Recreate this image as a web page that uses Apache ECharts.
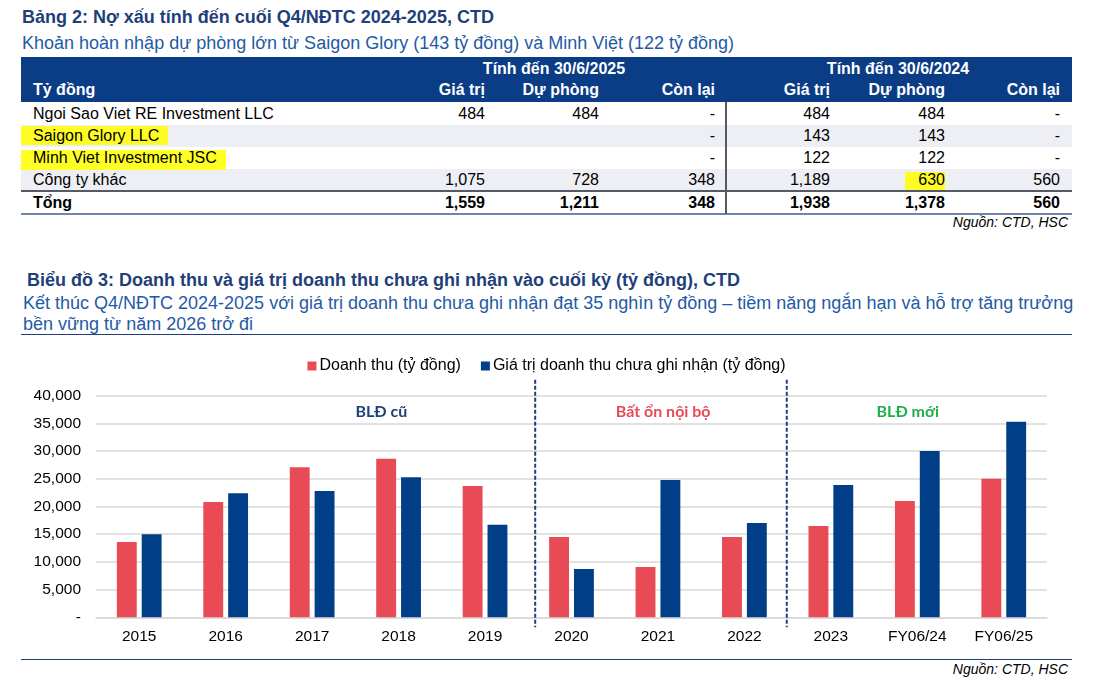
<!DOCTYPE html>
<html>
<head>
<meta charset="utf-8">
<script src="https://cdn.jsdelivr.net/npm/echarts@6/dist/echarts.min.js"></script>
<style>
  html, body { margin:0; padding:0; background:#fff; }
  body { width:1093px; height:693px; position:relative; overflow:hidden; font-family:"Liberation Sans", Arial, sans-serif; }
  .t { position:absolute; white-space:nowrap; line-height:22px; height:22px; }
  .box { position:absolute; }
  #chart { position:absolute; left:0; top:340px; width:1093px; height:320px; }
</style>
</head>
<body>
<div id="page"></div>
<div id="chart"></div>
<script>
// ---------- Table data ----------
const tableTitle = 'Bảng 2: Nợ xấu tính đến cuối Q4/NĐTC 2024-2025, CTD';
const tableSubtitle = 'Khoản hoàn nhập dự phòng lớn từ Saigon Glory (143 tỷ đồng) và Minh Việt (122 tỷ đồng)';
const tableGroups = ['Tính đến 30/6/2025', 'Tính đến 30/6/2024'];
const tableUnit = 'Tỷ đồng';
const tableColumns = ['Giá trị', 'Dự phòng', 'Còn lại', 'Giá trị', 'Dự phòng', 'Còn lại'];
const tableRowLabels = ['Ngoi Sao Viet RE Investment LLC', 'Saigon Glory LLC', 'Minh Viet Investment JSC', 'Công ty khác'];
const tableRows = [
  ['484', '484', '-', '484', '484', '-'],
  ['', '', '-', '143', '143', '-'],
  ['', '', '-', '122', '122', '-'],
  ['1,075', '728', '348', '1,189', '630', '560']
];
const totalLabel = 'Tổng';
const totalRow = ['1,559', '1,211', '348', '1,938', '1,378', '560'];
const sourceText = 'Nguồn: CTD, HSC';

// ---------- Chart data ----------
const chartTitle = 'Biểu đồ 3: Doanh thu và giá trị doanh thu chưa ghi nhận vào cuối kỳ (tỷ đồng), CTD';
const chartSubtitle1 = 'Kết thúc Q4/NĐTC 2024-2025 với giá trị doanh thu chưa ghi nhận đạt 35 nghìn tỷ đồng – tiềm năng ngắn hạn và hỗ trợ tăng trưởng';
const chartSubtitle2 = 'bền vững từ năm 2026 trở đi';
const categories = ['2015', '2016', '2017', '2018', '2019', '2020', '2021', '2022', '2023', 'FY06/24', 'FY06/25'];
const seriesNames = ['Doanh thu (tỷ đồng)', 'Giá trị doanh thu chưa ghi nhận (tỷ đồng)'];
const revenue = [13600, 20800, 27100, 28600, 23700, 14500, 9100, 14500, 16500, 21000, 25000];
const backlog = [15000, 22400, 22800, 25300, 16700, 8700, 24800, 17000, 23900, 30000, 35300];
const phaseLabels = ['BLĐ cũ', 'Bất ổn nội bộ', 'BLĐ mới'];

// ---------- Styles ----------
const C_NAVY = '#1F3F7A';
const C_SUB = '#1F5BA5';
const C_HEAD = '#0B3C86';
const C_RED = '#E84B55';
const C_BLUE = '#003F87';
const C_STRIPE = '#EDEFF5';

const page = document.getElementById('page');
function box(x, y, w, h, bg) {
  const d = document.createElement('div');
  d.className = 'box';
  Object.assign(d.style, { left: x + 'px', top: y + 'px', width: w + 'px', height: h + 'px', background: bg });
  page.appendChild(d); return d;
}
function txt(x, y, s, o) {
  o = o || {};
  const d = document.createElement('div');
  d.className = 't';
  d.textContent = s;
  d.style.top = (y - 11) + 'px';
  d.style.fontSize = (o.size || 16) + 'px';
  d.style.color = o.color || '#000';
  if (o.bold) d.style.fontWeight = 'bold';
  if (o.italic) d.style.fontStyle = 'italic';
  if (o.align === 'right') { d.style.right = (1093 - x) + 'px'; d.style.textAlign = 'right'; }
  else if (o.align === 'center') { d.style.left = x + 'px'; d.style.transform = 'translateX(-50%)'; }
  else d.style.left = x + 'px';
  page.appendChild(d); return d;
}

// Table
txt(22, 17, tableTitle, { size: 18, bold: true, color: C_NAVY });
txt(22, 43, tableSubtitle, { size: 18, color: C_SUB });
box(21, 57, 1051, 45, C_HEAD);
const colRight = [485, 599, 715, 830, 945, 1060];
txt(554, 69, tableGroups[0], { bold: true, color: '#fff', align: 'center' });
txt(898, 69, tableGroups[1], { bold: true, color: '#fff', align: 'center' });
txt(33, 90, tableUnit, { bold: true, color: '#fff' });
tableColumns.forEach((c, i) => txt(colRight[i], 90, c, { bold: true, color: '#fff', align: 'right' }));
const rowY = [114, 136, 158, 180];
box(21, 125, 1051, 22, C_STRIPE);
box(21, 169, 1051, 22, C_STRIPE);
// highlights
box(21, 126, 147, 19, 'rgba(255,255,0,0.85)');
box(21, 150, 205, 20, 'rgba(255,255,0,0.85)');
box(905, 172, 40, 19, 'rgba(255,255,0,0.85)');
tableRowLabels.forEach((r, i) => {
  txt(33, rowY[i], r);
  tableRows[i].forEach((v, j) => { if (v) txt(colRight[j], rowY[i], v, { align: 'right' }); });
});
box(21, 190, 1051, 2, '#555a66');
txt(33, 203, totalLabel, { bold: true });
totalRow.forEach((v, j) => txt(colRight[j], 203, v, { bold: true, align: 'right' }));
box(21, 213, 1051, 2, '#6f86a8');
box(725, 102, 2, 112, '#555a66');
txt(1068, 222, sourceText, { size: 14, italic: true, align: 'right' });

// Chart header
txt(27, 280, chartTitle, { size: 18, bold: true, color: C_NAVY });
txt(23, 303, chartSubtitle1, { size: 18, color: C_SUB });
txt(23, 324, chartSubtitle2, { size: 18, color: C_SUB });
box(21, 334, 1051, 1, C_NAVY);
box(21, 659, 1051, 1, C_NAVY);
txt(1068, 669, sourceText, { size: 14, italic: true, align: 'right' });

// ---------- Chart ----------
const chart = echarts.init(document.getElementById('chart'));
const FONT = '"Liberation Sans", Arial, sans-serif';
chart.setOption({
  animation: false,
  textStyle: { fontFamily: FONT },
  legend: {
    top: 13, left: 'center',
    data: seriesNames,
    icon: 'rect', itemWidth: 9, itemHeight: 9, itemGap: 20,
    textStyle: { fontSize: 16, color: '#000', fontFamily: FONT, padding: [0, 0, 0, -2] }
  },
  grid: { left: 96, right: 46, top: 55.7, height: 221.6, containLabel: false },
  xAxis: [{
    type: 'category', data: categories,
    axisLine: { show: true, lineStyle: { color: '#D9D9D9', width: 1.5 } },
    axisTick: { show: false },
    axisLabel: { fontSize: 15.5, color: '#000', margin: 11, fontFamily: FONT, interval: 0 }
  }, {
    type: 'value', min: 0, max: categories.length, show: false
  }],
  yAxis: {
    type: 'value', min: 0, max: 40000, interval: 5000,
    axisLine: { show: false }, axisTick: { show: false },
    splitLine: { lineStyle: { color: '#D9D9D9', width: 1.5 } },
    axisLabel: {
      fontSize: 15.5, color: '#000', margin: 15, fontFamily: FONT,
      formatter: v => v === 0 ? '-' : v.toLocaleString('en-US')
    }
  },
  series: [
    { name: seriesNames[0], type: 'bar', data: revenue, barWidth: '23%', barGap: '25%', itemStyle: { color: C_RED } },
    { name: seriesNames[1], type: 'bar', data: backlog, barWidth: '23%', barGap: '25%', itemStyle: { color: C_BLUE } }
  ]
});

// dividers and phase labels positioned via the chart's own scales
const dividerPos = [5.08, 7.99];
const labelPos = [3.30, 6.56, 9.39];
const labelColors = [C_NAVY, C_RED, '#1DAF4B'];
const yTop = chart.convertToPixel({ yAxisIndex: 0 }, 40000);
const yBot = chart.convertToPixel({ yAxisIndex: 0 }, 0);
const yLab = chart.convertToPixel({ yAxisIndex: 0 }, 37000);
const gfx = [];
dividerPos.forEach(p => {
  const x = chart.convertToPixel({ xAxisIndex: 1 }, p);
  gfx.push({ type: 'line', shape: { x1: x, y1: yTop - 16, x2: x, y2: yBot + 10 },
    style: { stroke: C_NAVY, lineWidth: 2, lineDash: [4, 2] }, z: 10 });
});
phaseLabels.forEach((s, i) => {
  const x = chart.convertToPixel({ xAxisIndex: 1 }, labelPos[i]);
  gfx.push({ type: 'text', x: x, y: yLab, z: 10,
    style: { text: s, fill: labelColors[i], font: 'bold 16px Lato, "Open Sans", sans-serif', textAlign: 'center', textVerticalAlign: 'middle' } });
});
chart.setOption({ graphic: gfx });
</script>
</body>
</html>
